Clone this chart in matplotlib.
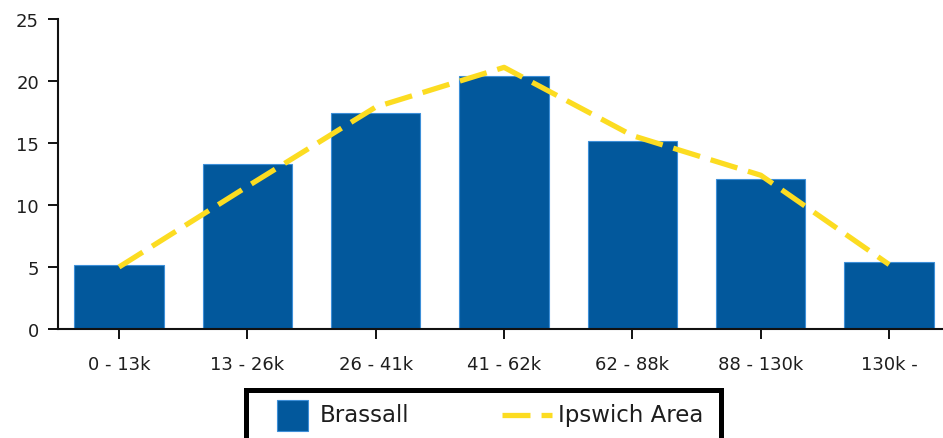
import matplotlib
matplotlib.use("Agg")
import matplotlib.pyplot as plt
from matplotlib.patches import Rectangle
from matplotlib.lines import Line2D

categories = ["0 - 13k", "13 - 26k", "26 - 41k", "41 - 62k", "62 - 88k", "88 - 130k", "130k -"]
brassall = [5.2, 13.3, 17.4, 20.4, 15.2, 12.1, 5.4]
ipswich = [5.0, 11.5, 17.9, 21.1, 15.6, 12.4, 5.2]
series_names = ["Brassall", "Ipswich Area"]
y_ticks = [0, 5, 10, 15, 20, 25]

BAR_COLOR = "#02589c"
EDGE_COLOR = "#3d8fd8"
LINE_COLOR = "#fcdc21"
TEXT_COLOR = "#1e1e1e"

W, H = 943, 439
fig = plt.figure(figsize=(W / 100, H / 100), dpi=100)
plt.rcParams['font.family'] = ['DejaVu Sans']

ax = fig.add_axes([57.7 / W, (H - 330) / H, (W - 57.7) / W, (330 - 20) / H])
x = list(range(len(categories)))
ax.bar(x, brassall, width=0.695, color=BAR_COLOR, edgecolor=EDGE_COLOR, linewidth=0.8, zorder=2)
ln, = ax.plot(x, ipswich, color=LINE_COLOR, linewidth=3.8, zorder=3,
              solid_capstyle='butt', dash_capstyle='butt')
ln.set_dashes([5.3, 2.1])

ax.set_xlim(-0.478, 6.42)
ax.set_ylim(0, 25)
ax.set_yticks(y_ticks)
ax.set_xticks(x)
ax.set_xticklabels(categories)
for s in ["top", "right"]:
    ax.spines[s].set_visible(False)
for s in ["left", "bottom"]:
    ax.spines[s].set_linewidth(1.5)
    ax.spines[s].set_color("#111111")
ax.tick_params(axis='both', direction='out', length=7.5, width=1.4, color="#111111",
               labelsize=13, labelcolor=TEXT_COLOR)
ax.tick_params(axis='y', pad=6)
ax.tick_params(axis='x', pad=11)

# Legend box (cut off at bottom of figure)
box_l, box_r, box_t = 245.5, 720.5, 390.5
fig.patches.append(Rectangle((box_l / W, -0.1), (box_r - box_l) / W, (H - box_t) / H + 0.1,
                             transform=fig.transFigure, facecolor="white", edgecolor="black",
                             linewidth=3.6, clip_on=False, zorder=5))
fig.patches.append(Rectangle((277 / W, (H - 431.5) / H), 31 / W, 31 / H,
                             transform=fig.transFigure, facecolor=BAR_COLOR,
                             edgecolor=EDGE_COLOR, linewidth=0.8, zorder=6))
fig.text(320 / W, (H - 416) / H, series_names[0], fontsize=16.5, color=TEXT_COLOR,
         va='center', ha='left', zorder=6)
leg_line = Line2D([502 / W, 552 / W], [(H - 416) / H, (H - 416) / H], transform=fig.transFigure,
                  color=LINE_COLOR, linewidth=3.8, solid_capstyle='butt', dash_capstyle='butt',
                  zorder=6)
leg_line.set_dashes([5.3, 2.1])
fig.lines.append(leg_line)
fig.text(558 / W, (H - 416) / H, series_names[1], fontsize=16.5, color=TEXT_COLOR,
         va='center', ha='left', zorder=6)

fig.savefig("out.png", dpi=100)
